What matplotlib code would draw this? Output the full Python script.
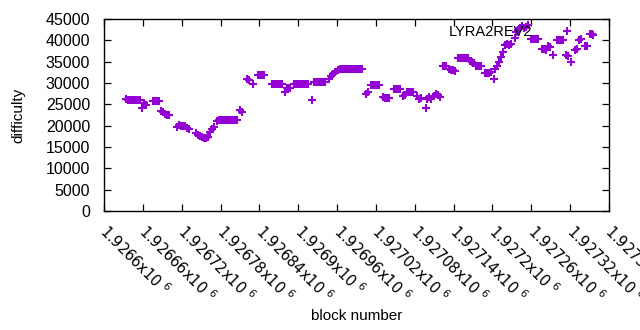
import matplotlib
matplotlib.use('Agg')
import matplotlib.pyplot as plt
from matplotlib.transforms import ScaledTranslation

plt.rcParams['font.family'] = ['Liberation Sans', 'DejaVu Sans']
plt.rcParams['mathtext.fontset'] = 'dejavusans'

blocks = [
    1926634, 1926637, 1926640, 1926643, 1926646, 1926649, 1926652, 1926655,
    1926659,
    1926662, 1926665,
    1926676, 1926679, 1926682, 1926685,
    1926688, 1926691, 1926694, 1926697, 1926700,
    1926713, 1926716, 1926719, 1926722, 1926725, 1926728, 1926731,
    1926742, 1926745, 1926748, 1926751, 1926754, 1926757, 1926760,
    1926764, 1926767, 1926770,
    1926775, 1926778, 1926781, 1926784, 1926787, 1926790, 1926793, 1926796, 1926799, 1926802, 1926805,
    1926810, 1926813,
    1926821, 1926824, 1926830,
    1926838, 1926841, 1926844, 1926847,
    1926860, 1926863, 1926866, 1926869, 1926872, 1926875,
    1926880, 1926882, 1926885, 1926888,
    1926894, 1926897, 1926900, 1926903, 1926906, 1926909, 1926912, 1926915,
    1926921,
    1926924, 1926927, 1926930, 1926933, 1926936, 1926939, 1926942,
    1926948, 1926951, 1926954, 1926957,
    1926962, 1926965, 1926968, 1926971, 1926974, 1926977, 1926980, 1926983, 1926986, 1926989,
    1926992, 1926995, 1926998,
    1927005, 1927008,
    1927013, 1927016, 1927019, 1927022, 1927025,
    1927031, 1927034, 1927037, 1927040,
    1927048, 1927051, 1927054, 1927057,
    1927062, 1927065,
    1927068, 1927071, 1927074, 1927077,
    1927083, 1927086, 1927089,
    1927097,
    1927099, 1927102, 1927105,
    1927110, 1927113, 1927116, 1927119,
    1927123, 1927126, 1927129,
    1927133, 1927136, 1927139, 1927142,
    1927147, 1927150, 1927153, 1927156, 1927159, 1927162,
    1927165, 1927168, 1927171,
    1927174, 1927177, 1927180, 1927183,
    1927189, 1927192, 1927195, 1927198,
    1927203,
    1927204, 1927207, 1927210, 1927213, 1927216,
    1927220, 1927223, 1927226, 1927229,
    1927235,
    1927237, 1927240, 1927243, 1927246, 1927249, 1927252, 1927255,
    1927259, 1927262, 1927265, 1927268, 1927271,
    1927276, 1927279, 1927282,
    1927286, 1927289,
    1927294,
    1927300, 1927303, 1927306, 1927309,
    1927314, 1927317,
    1927322,
    1927327, 1927330,
    1927334, 1927337,
    1927343, 1927346,
    1927350, 1927353, 1927356,
]

difficulty = [
    26200, 26000, 26000, 26000, 26000, 26000, 26000, 26000,
    24100,
    25400, 24800,
    25700, 25700, 25700, 25700,
    23400, 23300, 22800, 22500, 22500,
    19600, 20200, 20000, 20000, 19900, 19500, 19300,
    18300, 17800, 17500, 17300, 17200, 17000, 17300,
    18500, 19200, 19800,
    21000, 21300, 21300, 21300, 21300, 21300, 21300, 21300, 21300, 21300, 21300,
    23700, 23200,
    31000, 30800, 29800,
    31900, 31900, 31900, 31900,
    29800, 29800, 29800, 29800, 29800, 29800,
    27900, 28800, 28800, 28800,
    29700, 29700, 29700, 29700, 29700, 29700, 29700, 29700,
    26000,
    30200, 30200, 30200, 30200, 30200, 30200, 30200,
    31000, 31600, 32000, 32600,
    33000, 33200, 33200, 33200, 33200, 33200, 33200, 33200, 33200, 33200,
    33200, 33200, 33200,
    27400, 28000,
    29500, 29500, 29500, 29500, 29500,
    26800, 26500, 26500, 26600,
    28500, 28500, 28500, 28500,
    27000, 27200,
    28000, 28000, 28000, 28000,
    27000, 26300, 26500,
    24100,
    26300, 26800, 26200,
    27000, 27500, 27300, 26800,
    34000, 34000, 34000,
    33300, 33000, 33000, 32800,
    35800, 35800, 35800, 35800, 35800, 35800,
    35200, 35000, 34800,
    34000, 34000, 34000, 34000,
    32400, 32300, 32400, 32600,
    30900,
    33200, 34000, 35000, 36000, 37200,
    39000, 39200, 39000, 39100,
    40500,
    42000, 42500, 43000, 43300, 43000, 43200, 43500,
    40300, 40300, 40300, 40300, 40300,
    37900, 38000, 37800,
    38600, 38500,
    36600,
    40000, 40000, 40000, 40000,
    36500, 36300,
    35000,
    37800, 38000,
    40000, 40300,
    38700, 38700,
    41500, 41400, 41200,
]

xtick_values = [1926600, 1926660, 1926720, 1926780, 1926840, 1926900, 1926960,
                1927020, 1927080, 1927140, 1927200, 1927260, 1927320, 1927380]
xtick_mantissas = ['1.9266', '1.92666', '1.92672', '1.92678', '1.92684', '1.9269', '1.92696',
                   '1.92702', '1.92708', '1.92714', '1.9272', '1.92726', '1.92732', '1.92738']
ytick_values = [0, 5000, 10000, 15000, 20000, 25000, 30000, 35000, 40000, 45000]

series_label = 'LYRA2REV2'
color = '#9400d3'

fig = plt.figure(figsize=(6.4, 3.3), dpi=100)
ax = fig.add_axes([104/640, 1 - 211/330, (609 - 104)/640, (211 - 19)/330])

ax.plot(blocks, difficulty, linestyle='none', marker='+', color=color,
        markersize=5.2, markeredgewidth=1.5, label=series_label)

ax.set_xlim(1926600, 1927380)
ax.set_ylim(0, 45000)
ax.set_xticks(xtick_values)
ax.set_xticklabels([m + 'x10 $^{6}$' for m in xtick_mantissas],
                   rotation=-45, ha='left', va='top', rotation_mode='anchor',
                   fontsize=10.5, family='DejaVu Sans')
ax.set_yticks(ytick_values)
ax.set_yticklabels([str(v) for v in ytick_values], fontsize=11.5)
ax.tick_params(direction='in', top=True, right=True, length=5, width=0.9)
ax.tick_params(axis='y', pad=10)
ax.tick_params(axis='x', pad=7.2)
offset = ScaledTranslation(6/100, 0, fig.dpi_scale_trans)
for lab in ax.get_xticklabels():
    lab.set_transform(lab.get_transform() + offset)
for s in ax.spines.values():
    s.set_linewidth(1.0)

ax.set_xlabel('block number', fontsize=11)
ax.set_ylabel('difficulty', fontsize=11)
ax.xaxis.set_label_coords(0.5, -0.51)
ax.yaxis.set_label_coords(-0.155, 0.5)

ax.legend(loc='upper right', bbox_to_anchor=(0.974, 1.0), borderaxespad=0,
          markerfirst=False, frameon=False, fontsize=10.5,
          handlelength=3.15, handletextpad=0.82, borderpad=0.4)

fig.savefig('out.png', dpi=100)
